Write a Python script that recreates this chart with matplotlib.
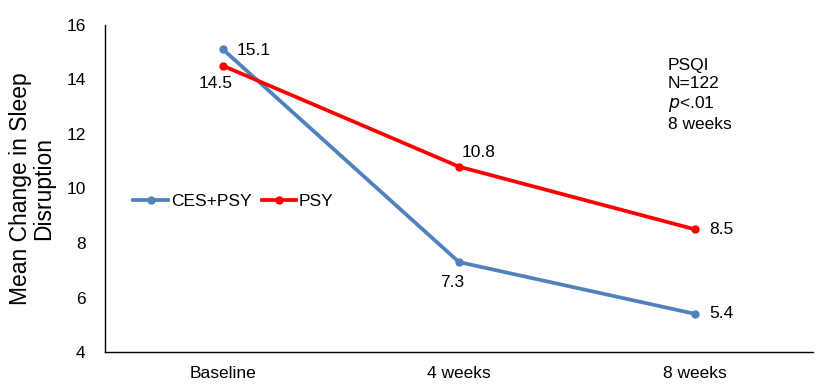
import matplotlib
matplotlib.use("Agg")
import matplotlib.pyplot as plt

plt.rcParams['font.family'] = ['Liberation Sans', 'DejaVu Sans']

weeks = ["Baseline", "4 weeks", "8 weeks"]
ces_psy = [15.1, 7.3, 5.4]
psy = [14.5, 10.8, 8.5]
yticks = [4, 6, 8, 10, 12, 14, 16]

blue = "#4F81BD"
red = "#FF0000"

fig = plt.figure(figsize=(8.27, 3.89), dpi=100)
ax = fig.add_axes([0.127, 0.095, 0.856, 0.841])

x = list(range(len(weeks)))
line1, = ax.plot(x, ces_psy, color=blue, lw=2.7, marker="o", ms=5, label="CES+PSY")
line2, = ax.plot(x, psy, color=red, lw=2.7, marker="o", ms=5, label="PSY")

# data labels
fs = 12.5
ax.annotate("15.1", (x[0], ces_psy[0]), xytext=(10, -1), textcoords="offset points",
            ha="left", va="center", fontsize=fs)
ax.annotate("7.3", (x[1], ces_psy[1]), xytext=(-5, -15), textcoords="offset points",
            ha="center", va="center", fontsize=fs)
ax.annotate("5.4", (x[2], ces_psy[2]), xytext=(10, 0), textcoords="offset points",
            ha="left", va="center", fontsize=fs)
ax.annotate("14.5", (x[0], psy[0]), xytext=(-5, -13), textcoords="offset points",
            ha="center", va="center", fontsize=fs)
ax.annotate("10.8", (x[1], psy[1]), xytext=(14, 10), textcoords="offset points",
            ha="center", va="center", fontsize=fs)
ax.annotate("8.5", (x[2], psy[2]), xytext=(10, 0), textcoords="offset points",
            ha="left", va="center", fontsize=fs)

ax.text(0.795, 0.9, "PSQI\nN=122\n$\\it{p}$<.01\n8 weeks", transform=ax.transAxes,
        ha="left", va="top", fontsize=fs, linespacing=1.25)

ax.set_xlim(-0.5, 2.5)
ax.set_ylim(4, 16)
ax.set_yticks(yticks)
ax.set_xticks(x)
ax.set_xticklabels(weeks)
ax.tick_params(axis="both", length=0, labelsize=fs)
ax.tick_params(axis="y", pad=14)
ax.tick_params(axis="x", pad=10)
for s in ["top", "right"]:
    ax.spines[s].set_visible(False)
ax.spines["left"].set_color("black")
ax.spines["bottom"].set_color("black")
ax.spines["left"].set_linewidth(1.0)
ax.spines["bottom"].set_linewidth(1.0)

ax.set_ylabel("Mean Change in Sleep\nDisruption", fontsize=16.5, linespacing=1.0)
ax.yaxis.set_label_coords(-0.071, 0.5)

ax.legend(loc="center left", bbox_to_anchor=(0.018, 0.46), ncol=2, frameon=False,
          fontsize=fs, handlelength=2.0, handletextpad=0.15, columnspacing=0.6,
          borderaxespad=0.5)

fig.savefig("out.png", dpi=100)
